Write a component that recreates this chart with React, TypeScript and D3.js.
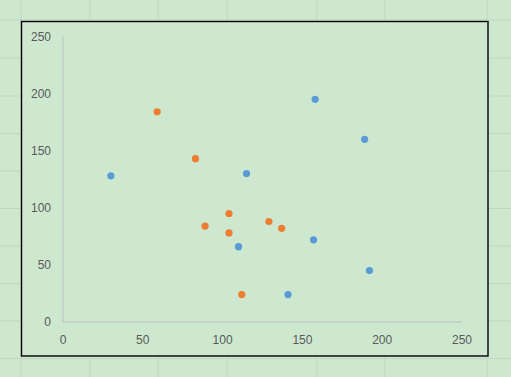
import React from "react";
import * as d3 from "d3";

const seriesAX = [30, 115, 158, 189, 157, 110, 192, 141];
const seriesAY = [128, 130, 195, 160, 72, 66, 45, 24];
const seriesBX = [59, 83, 104, 89, 104, 129, 137, 112];
const seriesBY = [184, 143, 95, 84, 78, 88, 82, 24];
const xTicks = [0, 50, 100, 150, 200, 250];
const yTicks = [0, 50, 100, 150, 200, 250];
const sheetRows = [20, 58, 96, 133.5, 171, 208.5, 246, 283.5, 321, 358.5];
const sheetCols = [21, 90, 158, 227, 317, 385, 487];

const W = 511;
const H = 377;
const BG = "#cde8cf";
const FONT = "'Liberation Sans', Arial, sans-serif";

export default function App() {
  React.useEffect(() => {
    document.body.style.margin = "0";
  }, []);
  const x = d3.scaleLinear().domain([0, 250]).range([63, 462]);
  const y = d3.scaleLinear().domain([0, 250]).range([322, 36.5]);
  const ptsA = seriesAX.map((v, i) => [v, seriesAY[i]]);
  const ptsB = seriesBX.map((v, i) => [v, seriesBY[i]]);
  return (
    <svg width={W} height={H} style={{ position: "absolute", left: 0, top: 0, display: "block" }}>
      <rect x={0} y={0} width={W} height={H} fill={BG} />
      {sheetRows.map((r, i) => (
        <line key={"r" + i} x1={0} x2={W} y1={r} y2={r} stroke="#bfd8c1" strokeWidth={1} />
      ))}
      {sheetCols.map((c, i) => (
        <line key={"c" + i} x1={c} x2={c} y1={0} y2={H} stroke="#bfd8c1" strokeWidth={1} />
      ))}
      <rect x={21.5} y={21.5} width={466.5} height={334.5} fill={BG} stroke="#000" strokeWidth={1.4} />
      <line x1={x(0)} x2={x(0)} y1={y(250)} y2={y(0)} stroke="#bfbfbf" strokeWidth={1} />
      <line x1={x(0)} x2={x(250)} y1={y(0)} y2={y(0)} stroke="#bfbfbf" strokeWidth={1} />
      {yTicks.map((t) => (
        <text key={"y" + t} x={51} y={y(t)} dy="0.35em" textAnchor="end" fontFamily={FONT} fontSize={12} fill="#595959">
          {t}
        </text>
      ))}
      {xTicks.map((t) => (
        <text key={"x" + t} x={x(t)} y={339.5} dy="0.35em" textAnchor="middle" fontFamily={FONT} fontSize={12} fill="#595959">
          {t}
        </text>
      ))}
      {ptsA.map((p, i) => (
        <circle key={"a" + i} cx={x(p[0])} cy={y(p[1])} r={3.6} fill="#5b9bd5" />
      ))}
      {ptsB.map((p, i) => (
        <circle key={"b" + i} cx={x(p[0])} cy={y(p[1])} r={3.6} fill="#ed7d31" />
      ))}
    </svg>
  );
}
